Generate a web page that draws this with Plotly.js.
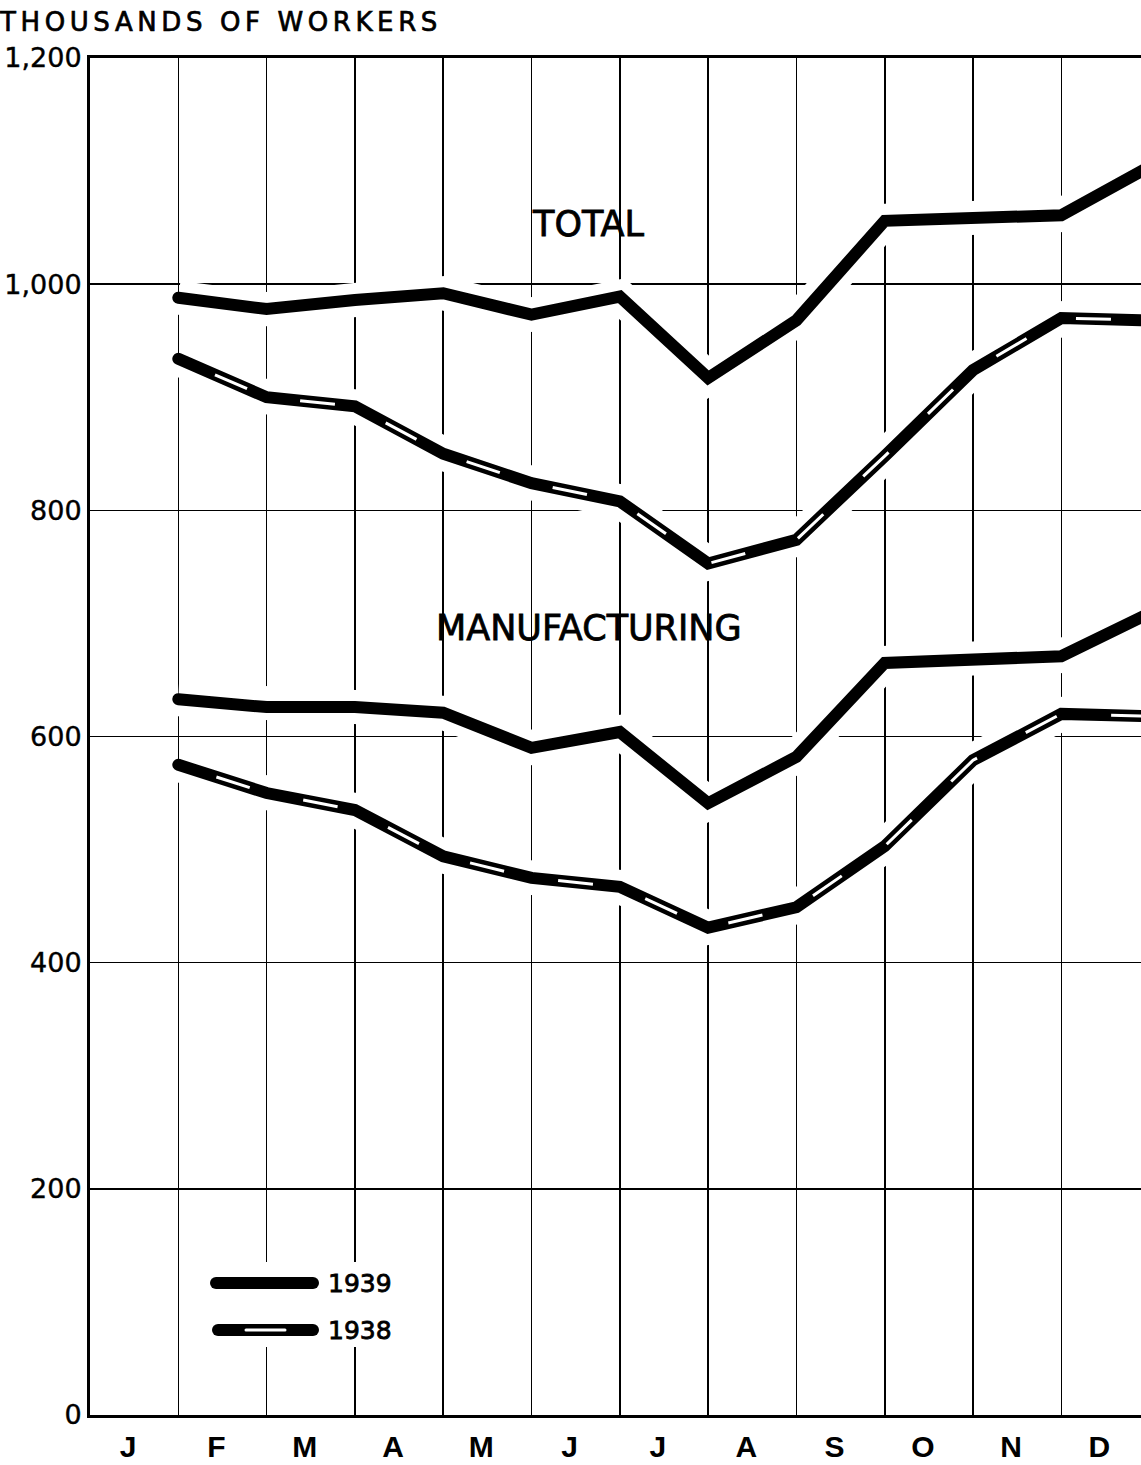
<!DOCTYPE html>
<html>
<head>
<meta charset="utf-8">
<script src="https://cdn.plot.ly/plotly-3.0.1.min.js"></script>
<style>
  html, body { margin: 0; padding: 0; background: #fff; }
  #chart { width: 1141px; height: 1465px; }
  .gtitle { letter-spacing: 4.6px; stroke: #000; stroke-width: 0.7px; }
  .annotation-text { stroke: #000; stroke-width: 0.8px; }
  .ytick text { stroke: #000; stroke-width: 0.4px; }
  .scatterlayer .trace:nth-child(n+5):nth-child(-n+8) .js-line { stroke-linecap: round; }
  .shapelayer path { stroke-linecap: round; }
</style>
</head>
<body>
<div id="chart"></div>
<script>
// ---- data (thousands of workers, value at end of each month) ----
const monthLabels = ['J','F','M','A','M','J','J','A','S','O','N','D'];
const monthEnd = [1,2,3,4,5,6,7,8,9,10,11,12];
const total1939 = [988, 978, 986, 992, 973, 989, 917, 968, 1056, 1058, 1061, 1104];
const total1938 = [934, 900, 892, 850, 824, 808, 753, 774, 848, 924, 970, 968];
const mfg1939   = [633, 626, 626, 621, 590, 604, 541, 582, 665, 669, 671, 709];
const mfg1938   = [575, 550, 535, 494, 475, 467, 431, 449, 503, 579, 620, 618];
const yTickVals = [0, 200, 400, 600, 800, 1000, 1200];
const yTickText = ['0', '200', '400', '600', '800', '1,000', '1,200'];
const seriesNames = ['1939', '1938'];

const FONT = 'DejaVu Sans, sans-serif';
const series = [
  {y: total1939, year: '1939', group: 'Total'},
  {y: total1938, year: '1938', group: 'Total'},
  {y: mfg1939,   year: '1939', group: 'Manufacturing'},
  {y: mfg1938,   year: '1938', group: 'Manufacturing'}
];

const traces = [];
// white halo that interrupts the grid around each curve
series.forEach(s => traces.push({
  x: monthEnd, y: s.y, mode: 'lines', hoverinfo: 'skip', showlegend: false,
  line: {color: '#ffffff', width: 34}
}));
// black curves
series.forEach(s => traces.push({
  x: monthEnd, y: s.y, mode: 'lines', name: s.group + ' ' + s.year, showlegend: false,
  line: {color: '#000000', width: 12}
}));
// white dashes inside the 1938 curves
series.filter(s => s.year === '1938').forEach(s => traces.push({
  x: monthEnd, y: s.y, mode: 'lines', hoverinfo: 'skip', showlegend: false,
  line: {color: '#ffffff', width: 3, dash: '0px,40px,35px,15px'}
}));

const px2x = px => (px - 90) / 1051;
const px2y = py => (1415 - py) / 1357;

const layout = {
  width: 1141, height: 1465, autosize: false,
  margin: {l: 90, r: 0, t: 58, b: 50, pad: 0},
  paper_bgcolor: '#ffffff', plot_bgcolor: '#ffffff',
  showlegend: false,
  title: {
    text: 'THOUSANDS OF WORKERS',
    font: {family: FONT, size: 26, color: '#000'},
    x: 0, xref: 'container', xanchor: 'left',
    y: 1 - 22 / 1465, yref: 'container', yanchor: 'middle'
  },
  xaxis: {
    range: [0, 1051 / 88.3], fixedrange: true,
    tickmode: 'array',
    tickvals: monthLabels.map((_, i) => i + 0.5),
    ticktext: monthLabels,
    ticks: '', ticklabelstandoff: 3, ticklabelshift: -6,
    tickfont: {family: 'Liberation Sans, sans-serif', size: 30, weight: 'bold', color: '#000'},
    showgrid: false, zeroline: false,
    showline: true, linecolor: '#000', linewidth: 3, mirror: true,
    minor: {tick0: 0, dtick: 1, showgrid: true, gridcolor: '#000', gridwidth: 1.6, ticks: ''}
  },
  yaxis: {
    range: [0, 1200], fixedrange: true,
    tickmode: 'array', tickvals: yTickVals, ticktext: yTickText,
    ticks: '', ticklabelstandoff: 0,
    tickfont: {family: FONT, size: 27, color: '#000'},
    showgrid: true, gridcolor: '#000', gridwidth: 1.6,
    zeroline: false,
    showline: true, linecolor: '#000', linewidth: 3
  },
  annotations: [
    {text: 'TOTAL', x: px2x(588), y: px2y(224), xref: 'paper', yref: 'paper',
     showarrow: false, xanchor: 'center', yanchor: 'middle',
     font: {family: FONT, size: 35, color: '#000'}},
    {text: 'MANUFACTURING', x: px2x(589), y: px2y(628), xref: 'paper', yref: 'paper',
     showarrow: false, xanchor: 'center', yanchor: 'middle',
     font: {family: FONT, size: 35, color: '#000'}},
    {text: seriesNames[0], x: px2x(326), y: px2y(1283), xref: 'paper', yref: 'paper',
     showarrow: false, xanchor: 'left', yanchor: 'middle',
     font: {family: FONT, size: 25, color: '#000'}},
    {text: seriesNames[1], x: px2x(326), y: px2y(1330), xref: 'paper', yref: 'paper',
     showarrow: false, xanchor: 'left', yanchor: 'middle',
     font: {family: FONT, size: 25, color: '#000'}}
  ],
  shapes: [
    // legend background
    {type: 'rect', xref: 'paper', yref: 'paper',
     x0: px2x(203), x1: px2x(398), y0: px2y(1347), y1: px2y(1262),
     fillcolor: '#ffffff', line: {width: 0}},
    // legend samples
    {type: 'line', xref: 'paper', yref: 'paper',
     x0: px2x(216), x1: px2x(313), y0: px2y(1283), y1: px2y(1283),
     line: {color: '#000', width: 12}},
    {type: 'line', xref: 'paper', yref: 'paper',
     x0: px2x(218), x1: px2x(313), y0: px2y(1330), y1: px2y(1330),
     line: {color: '#000', width: 12}},
    {type: 'line', xref: 'paper', yref: 'paper',
     x0: px2x(246), x1: px2x(285), y0: px2y(1330), y1: px2y(1330),
     line: {color: '#fff', width: 3}}
  ]
};

Plotly.newPlot('chart', traces, layout, {displayModeBar: false, staticPlot: true});
</script>
</body>
</html>
